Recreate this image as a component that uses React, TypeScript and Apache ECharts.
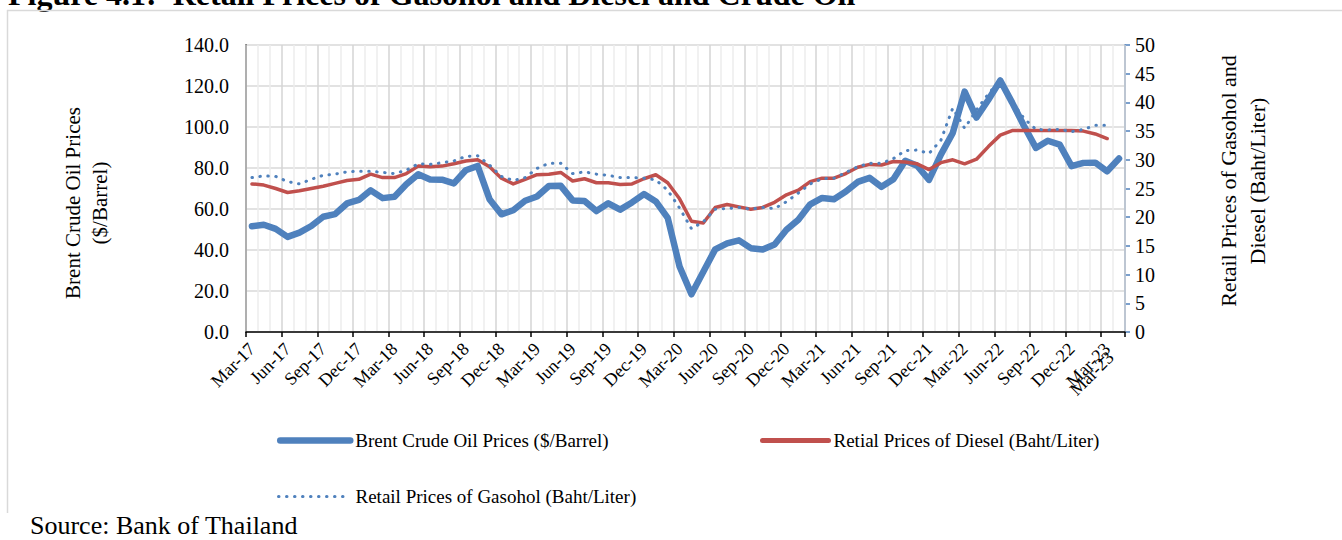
import React, { useEffect, useRef } from "react";
import * as echarts from "echarts";

const months: string[] = [
  "Mar-17", "Apr-17", "May-17", "Jun-17", "Jul-17", "Aug-17", "Sep-17", "Oct-17", "Nov-17", "Dec-17",
  "Jan-18", "Feb-18", "Mar-18", "Apr-18", "May-18", "Jun-18", "Jul-18", "Aug-18", "Sep-18", "Oct-18", "Nov-18", "Dec-18",
  "Jan-19", "Feb-19", "Mar-19", "Apr-19", "May-19", "Jun-19", "Jul-19", "Aug-19", "Sep-19", "Oct-19", "Nov-19", "Dec-19",
  "Jan-20", "Feb-20", "Mar-20", "Apr-20", "May-20", "Jun-20", "Jul-20", "Aug-20", "Sep-20", "Oct-20", "Nov-20", "Dec-20",
  "Jan-21", "Feb-21", "Mar-21", "Apr-21", "May-21", "Jun-21", "Jul-21", "Aug-21", "Sep-21", "Oct-21", "Nov-21", "Dec-21",
  "Jan-22", "Feb-22", "Mar-22", "Apr-22", "May-22", "Jun-22", "Jul-22", "Aug-22", "Sep-22", "Oct-22", "Nov-22", "Dec-22",
  "Jan-23", "Feb-23", "Mar-23", "Mar-23",
];

const brent: number[] = [
  51.6, 52.3, 50.3, 46.4, 48.5, 51.7, 56.2, 57.5, 62.7, 64.4,
  69.1, 65.3, 66.0, 72.1, 76.9, 74.4, 74.3, 72.5, 78.9, 81.0, 64.8, 57.4,
  59.4, 64.0, 66.1, 71.2, 71.3, 64.2, 63.9, 59.0, 62.8, 59.7, 63.2, 67.3,
  63.7, 55.7, 32.0, 18.4, 29.4, 40.3, 43.2, 44.7, 40.9, 40.2, 42.7, 49.9,
  54.8, 62.3, 65.4, 64.8, 68.5, 73.2, 75.2, 70.8, 74.5, 83.5, 81.1, 74.2,
  86.5, 97.1, 117.3, 104.6, 113.3, 122.7, 111.9, 100.5, 89.8, 93.3, 91.4, 80.9,
  82.5, 82.6, 78.4, 84.6,
];

const diesel: (number | null)[] = [
  25.8, 25.6, 25.0, 24.3, 24.6, 25.0, 25.4, 25.9, 26.4, 26.6,
  27.5, 26.9, 26.9, 27.6, 28.9, 28.8, 28.9, 29.3, 29.8, 30.0, 28.8, 26.8,
  25.8, 26.6, 27.4, 27.5, 27.8, 26.3, 26.7, 26.0, 26.0, 25.7, 25.8, 26.7,
  27.4, 26.0, 23.2, 19.3, 19.0, 21.7, 22.2, 21.8, 21.4, 21.7, 22.6, 23.9,
  24.7, 26.2, 26.8, 26.8, 27.6, 28.7, 29.2, 29.1, 29.7, 29.6, 29.3, 28.3,
  29.5, 30.0, 29.3, 30.1, 32.3, 34.3, 35.1, 35.1, 35.1, 35.1, 35.1, 35.1,
  35.0, 34.5, 33.7, null,
];

const gasohol: (number | null)[] = [
  26.9, 27.2, 27.1, 26.2, 25.8, 26.6, 27.3, 27.5, 27.9, 28.0,
  28.0, 27.8, 27.6, 28.2, 29.3, 29.2, 29.5, 29.8, 30.6, 30.7, 29.1, 27.1,
  26.4, 26.9, 28.5, 29.4, 29.4, 27.6, 27.9, 27.5, 27.3, 26.9, 26.9, 26.8,
  26.5, 24.7, 21.6, 18.0, 19.2, 21.4, 21.5, 21.7, 21.4, 21.7, 21.5, 22.7,
  24.2, 25.8, 26.7, 26.8, 27.8, 28.8, 29.4, 29.4, 30.2, 31.6, 31.7, 31.1,
  33.4, 39.0, 35.5, 38.7, 41.5, 43.9, 40.1, 37.2, 35.3, 35.2, 35.3, 34.9,
  35.3, 36.0, 36.0, null,
];

const seriesNames = [
  "Brent Crude Oil Prices ($/Barrel)",
  "Retial Prices of Diesel (Baht/Liter)",
  "Retail Prices of Gasohol (Baht/Liter)",
];

const FONT = "'Liberation Serif', 'Times New Roman', serif";
const BLUE = "#4F81BD";
const RED = "#C0504D";

const DOTTED: number[] = [0.5, 7.5];

export default function App() {
  const ref = useRef<HTMLDivElement>(null);

  useEffect(() => {
    document.body.style.margin = "0";
    if (!ref.current) return;
    const chart = echarts.init(ref.current, undefined, { renderer: "svg" });
    const last = months.length - 1;

    const legendText = { fontFamily: FONT, fontSize: 19, color: "#000" };
    const xLabelBase = { rotate: 45, margin: 14, fontFamily: FONT, fontSize: 18, color: "#000" };

    const option: any = {
      animation: false,
      backgroundColor: "#ffffff",
      grid: { left: 246, right: 217, top: 45, bottom: 208, containLabel: false },
      graphic: [
        {
          type: "text",
          x: 8,
          y: -6,
          style: {
            text: "Figure 4.1:  Retail Prices of Gasohol and Diesel and Crude Oil",
            font: `bold 32px ${FONT}`,
            fill: "#000",
            align: "left",
            verticalAlign: "middle",
          },
        },
        {
          type: "line",
          shape: { x1: 7, y1: 10.5, x2: 1342, y2: 10.5 },
          style: { stroke: "#d9d9d9", lineWidth: 1.5 },
        },
        {
          type: "line",
          shape: { x1: 7.5, y1: 10, x2: 7.5, y2: 513 },
          style: { stroke: "#d9d9d9", lineWidth: 1.5 },
        },
        {
          type: "text",
          x: 86,
          y: 203,
          rotation: Math.PI / 2,
          style: {
            text: "Brent Crude Oil Prices\n($/Barrel)",
            font: `21px ${FONT}`,
            lineHeight: 27,
            fill: "#000",
            align: "center",
            verticalAlign: "middle",
          },
        },
        {
          type: "text",
          x: 1243,
          y: 181,
          rotation: Math.PI / 2,
          style: {
            text: "Retail Prices of Gasohol and\nDiesel (Baht/Liter)",
            font: `22px ${FONT}`,
            lineHeight: 29,
            fill: "#000",
            align: "center",
            verticalAlign: "middle",
          },
        },
        {
          type: "text",
          x: 30,
          y: 525,
          style: {
            text: "Source: Bank of Thailand",
            font: `26px ${FONT}`,
            fill: "#000",
            align: "left",
            verticalAlign: "middle",
          },
        },
      ],
      legend: [
        {
          data: [seriesNames[0]],
          left: 277,
          top: 431,
          padding: 0,
          itemWidth: 70,
          itemHeight: 14,
          itemStyle: { opacity: 0 },
          lineStyle: { color: BLUE, width: 6.5, cap: "round" },
          textStyle: legendText,
        },
        {
          data: [seriesNames[1]],
          left: 760,
          top: 431,
          padding: 0,
          itemWidth: 66,
          itemHeight: 14,
          itemStyle: { opacity: 0 },
          lineStyle: { color: RED, width: 5, cap: "round" },
          textStyle: legendText,
        },
        {
          data: [seriesNames[2]],
          left: 277,
          top: 487,
          padding: 0,
          itemWidth: 72,
          itemHeight: 14,
          itemStyle: { opacity: 0 },
          lineStyle: { color: BLUE, width: 3, type: DOTTED, cap: "round" },
          textStyle: legendText,
        },
      ],
      xAxis: [
        {
          type: "category",
          data: months,
          boundaryGap: true,
          axisLine: { show: true, lineStyle: { color: "#000", width: 1.5 } },
          axisTick: { show: true, interval: 2, length: 5, lineStyle: { color: "#000", width: 1.5 } },
          axisLabel: {
            ...xLabelBase,
            interval: (i: number) => i % 3 === 0,
          },
          splitLine: { show: true, interval: 2, lineStyle: { color: "#d4d4d4", width: 1.5 } },
          z: 2,
        },
        {
          type: "category",
          data: months,
          boundaryGap: true,
          position: "bottom",
          axisLine: { show: false },
          axisTick: { show: false },
          axisLabel: {
            ...xLabelBase,
            show: true,
            interval: (i: number) => i === last,
            showMaxLabel: true,
            formatter: (v: string) => `{l|${v}}`,
            rich: { l: { fontFamily: FONT, fontSize: 18, color: "#000", padding: [0, 12, 0, 0] } },
          },
          splitLine: {
            show: true,
            interval: (i: number) => i % 3 !== 0,
            lineStyle: { color: "#ececec", width: 1.5 },
          },
        },
      ],
      yAxis: [
        {
          type: "value",
          min: 0,
          max: 140,
          interval: 20,
          axisLine: { show: true, lineStyle: { color: "#000", width: 1.5 } },
          axisTick: { show: false },
          axisLabel: {
            formatter: (v: number) => v.toFixed(1),
            fontFamily: FONT,
            fontSize: 20,
            color: "#000",
            margin: 17,
          },
          splitLine: { show: true, lineStyle: { color: "#d9d9d9", width: 1.5 } },
        },
        {
          type: "value",
          position: "right",
          min: 0,
          max: 50,
          interval: 5,
          axisLine: { show: true, lineStyle: { color: BLUE, width: 1.5 } },
          axisTick: { show: true, length: 5, inside: false, lineStyle: { color: BLUE, width: 1.5 } },
          axisLabel: { fontFamily: FONT, fontSize: 20, color: "#000", margin: 10 },
          splitLine: { show: false },
        },
      ],
      series: [
        {
          name: seriesNames[0],
          type: "line",
          xAxisIndex: 0,
          yAxisIndex: 0,
          data: brent,
          symbol: "none",
          lineStyle: { color: BLUE, width: 6.5, cap: "round", join: "round" },
          itemStyle: { color: BLUE },
        },
        {
          name: seriesNames[1],
          type: "line",
          xAxisIndex: 0,
          yAxisIndex: 1,
          data: diesel,
          symbol: "none",
          lineStyle: { color: RED, width: 3.5, cap: "round", join: "round" },
          itemStyle: { color: RED },
        },
        {
          name: seriesNames[2],
          type: "line",
          xAxisIndex: 0,
          yAxisIndex: 1,
          data: gasohol,
          symbol: "none",
          lineStyle: { color: BLUE, width: 3, type: DOTTED, cap: "round", join: "round" },
          itemStyle: { color: BLUE },
        },
      ],
    };

    chart.setOption(option);
    return () => chart.dispose();
  }, []);

  return <div ref={ref} style={{ width: 1342, height: 540 }} />;
}
